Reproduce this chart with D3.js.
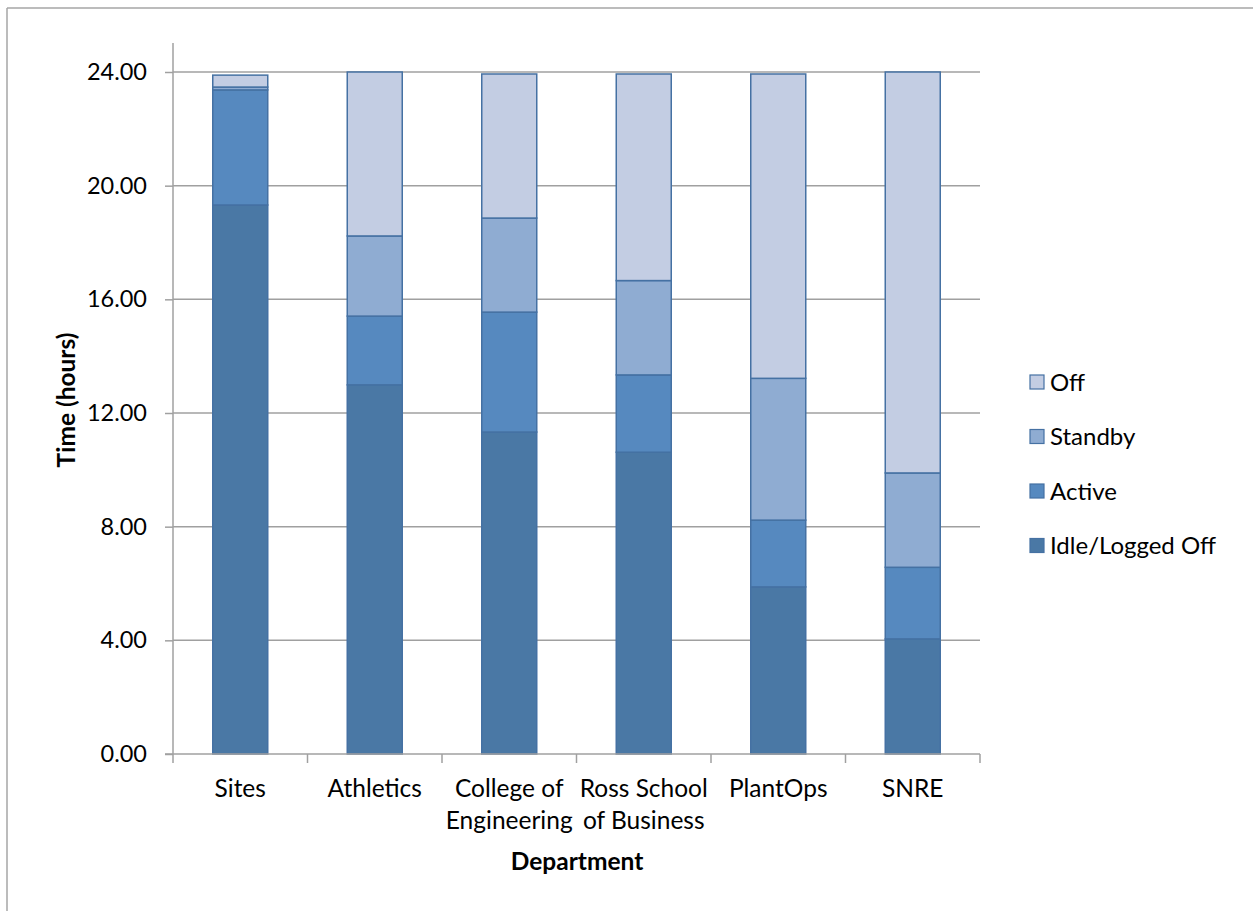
<!DOCTYPE html>
<html>
<head>
<meta charset="utf-8">
<script src="https://cdn.jsdelivr.net/npm/d3@7"></script>
<style>
  html, body { margin: 0; padding: 0; background: #fff; }
  svg { display: block; font-family: Lato, "Open Sans", sans-serif; }
</style>
</head>
<body>
<svg id="chart" width="1253" height="911"></svg>
<script>
// Average daily hours per computer state, by department
const departments = ["Sites", "Athletics", "College of Engineering", "Ross School of Business", "PlantOps", "SNRE"];
const departmentLines = [["Sites"], ["Athletics"], ["College of", "Engineering"], ["Ross School", "of Business"], ["PlantOps"], ["SNRE"]];
const seriesNames = ["Idle/Logged Off", "Active", "Standby", "Off"];
const idleLoggedOff = [19.32, 12.99, 11.33, 10.62, 5.88, 4.05];
const active        = [4.05, 2.42, 4.22, 2.72, 2.35, 2.52];
const standby       = [0.10, 2.82, 3.31, 3.32, 4.99, 3.32];
const off           = [0.42, 5.77, 5.07, 7.27, 10.71, 14.11];
const yTicks = [0, 4, 8, 12, 16, 20, 24];
const seriesColors = ["#4a78a5", "#5689bf", "#8facd2", "#c3cde3"];

const svg = d3.select("#chart");
const W = 1253, H = 911;
const plot = { left: 173, right: 980, top: 72, bottom: 754 };

// chart frame (top and left edges)
svg.append("line").attr("x1", 7).attr("x2", W).attr("y1", 8).attr("y2", 8)
  .attr("stroke", "#a6a6a6").attr("stroke-width", 1.5);
svg.append("line").attr("x1", 7).attr("x2", 7).attr("y1", 8).attr("y2", H)
  .attr("stroke", "#a6a6a6").attr("stroke-width", 1.5);

const x = d3.scaleBand().domain(departments).range([plot.left, plot.right]).paddingInner(0).paddingOuter(0);
const y = d3.scaleLinear().domain([0, 24]).range([plot.bottom, plot.top]);

// gridlines
svg.append("g").selectAll("line").data(yTicks.filter(t => t > 0)).join("line")
  .attr("x1", plot.left).attr("x2", plot.right)
  .attr("y1", d => y(d)).attr("y2", d => y(d))
  .attr("stroke", "#a0a0a0").attr("stroke-width", 1.5);

// y axis
const yAxis = svg.append("g").attr("transform", `translate(${plot.left},0)`)
  .call(d3.axisLeft(y).tickValues(yTicks).tickFormat(d3.format(".2f")).tickSize(8).tickPadding(18));
yAxis.select(".domain").remove();
yAxis.append("line").attr("x1", 0).attr("x2", 0).attr("y1", 43).attr("y2", plot.bottom)
  .attr("stroke", "#a0a0a0").attr("stroke-width", 1.5);
yAxis.selectAll(".tick line").attr("stroke", "#a0a0a0").attr("stroke-width", 1.5);
yAxis.selectAll(".tick text").attr("fill", "#000").style("font-size", "23.5px").style("font-family", "Lato, sans-serif");

// stacked data
const rows = departments.map((d, i) => ({
  dept: d,
  "Idle/Logged Off": idleLoggedOff[i],
  "Active": active[i],
  "Standby": standby[i],
  "Off": off[i]
}));
const stacked = d3.stack().keys(seriesNames)(rows);

const barW = 55;
svg.append("g").selectAll("g").data(stacked).join("g")
  .attr("fill", (d, i) => seriesColors[i])
  .selectAll("rect").data(d => d).join("rect")
  .attr("x", d => x(d.data.dept) + x.bandwidth() / 2 - barW / 2)
  .attr("width", barW)
  .attr("y", d => y(d[1]))
  .attr("height", d => y(d[0]) - y(d[1]))
  .attr("stroke", "#4571a3")
  .attr("stroke-width", 1.5);

// x axis
const xAxisG = svg.append("g");
xAxisG.append("line").attr("x1", plot.left - 8).attr("x2", plot.right).attr("y1", plot.bottom).attr("y2", plot.bottom)
  .attr("stroke", "#a0a0a0").attr("stroke-width", 1.5);
const boundaries = departments.map(d => x(d)).concat([plot.right]);
xAxisG.selectAll("line.tick").data(boundaries).join("line").attr("class", "tick")
  .attr("x1", d => d).attr("x2", d => d).attr("y1", plot.bottom).attr("y2", plot.bottom + 9)
  .attr("stroke", "#a0a0a0").attr("stroke-width", 1.5);
const catLabels = xAxisG.selectAll("text").data(departments).join("text")
  .attr("x", d => x(d) + x.bandwidth() / 2)
  .attr("y", 797)
  .attr("text-anchor", "middle")
  .style("font-size", "24.5px");
catLabels.selectAll("tspan").data((d, i) => departmentLines[i]).join("tspan")
  .attr("x", function() { return this.parentNode.getAttribute("x"); })
  .attr("dy", (d, i) => i === 0 ? 0 : 32)
  .text(d => d);

// axis titles
svg.append("text").attr("x", 577).attr("y", 870).attr("text-anchor", "middle")
  .style("font-size", "24.5px").style("font-weight", "bold").text("Department");
svg.append("text").attr("transform", "translate(75,400) rotate(-90)").attr("text-anchor", "middle")
  .style("font-size", "24.5px").style("font-weight", "bold").text("Time (hours)");

// legend, listed top series first
const legendItems = seriesNames.slice().reverse();
const legend = svg.append("g").selectAll("g").data(legendItems).join("g")
  .attr("transform", (d, i) => `translate(1030,${382 + i * 54.5})`);
legend.append("rect").attr("x", 0).attr("y", -7).attr("width", 14).attr("height", 14)
  .attr("fill", d => seriesColors[seriesNames.indexOf(d)])
  .attr("stroke", "#4571a3").attr("stroke-width", 1.2);
legend.append("text").attr("x", 20).attr("y", 8.5).style("font-size", "24px").text(d => d);
</script>
</body>
</html>
